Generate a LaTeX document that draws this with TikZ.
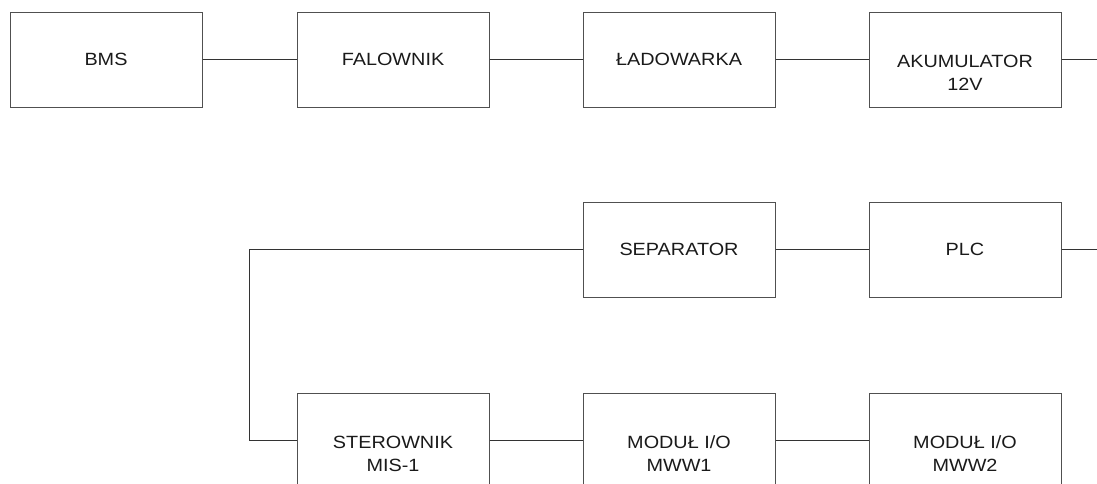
\documentclass[tikz,border=0pt]{standalone}
\usepackage{fontspec}
\setmainfont{Liberation Sans}[FakeStretch=1.12]
\definecolor{frame}{HTML}{505050}
\definecolor{wire}{HTML}{333333}
\definecolor{ink}{HTML}{1A1A1A}
% multi-line label whose first line carries the baseline
\newcommand\boxlines[1]{\begin{tabular}[t]{@{}c@{}}#1\end{tabular}}
\begin{document}
\begin{tikzpicture}[x=1pt,y=-1pt,
  unit/.style={draw=frame,line width=1pt,minimum width=192pt,minimum height=95pt,
    inner sep=0pt,text=ink,font=\fontsize{17.7}{23}\selectfont,
    text height=12.7pt,text depth=0pt},
  unit2/.style={unit,text height=16.4pt},
  wireline/.style={draw=wire,line width=1pt}]
\useasboundingbox (0,0) rectangle (1097,483);
\clip (0,0) rectangle (1097,483);
% top row
\node[unit]  (bms)  at (106,59.5) {BMS};
\node[unit]  (fal)  at (393,59.5) {FALOWNIK};
\node[unit]  (lad)  at (679,59.5) {ŁADOWARKA};
\node[unit2] (aku)  at (965,59.5) {\boxlines{AKUMULATOR\\12V}};
% middle row
\node[unit]  (sep)  at (679,249.5) {SEPARATOR};
\node[unit]  (plc)  at (965,249.5) {PLC};
% bottom row
\node[unit2] (ster) at (393,440.5) {\boxlines{STEROWNIK\\MIS-1}};
\node[unit2] (mw1)  at (679,440.5) {\boxlines{MODUŁ I/O\\MWW1}};
\node[unit2] (mw2)  at (965,440.5) {\boxlines{MODUŁ I/O\\MWW2}};
% free ends and bend point
\coordinate (akuout) at (1097,59.5);
\coordinate (plcout) at (1097,249.5);
\coordinate (bend)   at (249,249.5);
% connections
\draw[wireline] (bms) -- (fal);
\draw[wireline] (fal) -- (lad);
\draw[wireline] (lad) -- (aku);
\draw[wireline] (aku) -- (akuout);
\draw[wireline] (sep) -- (plc);
\draw[wireline] (plc) -- (plcout);
\draw[wireline] (sep.west) -- (bend) |- (ster.west);
\draw[wireline] (ster) -- (mw1);
\draw[wireline] (mw1) -- (mw2);
\end{tikzpicture}
\end{document}
